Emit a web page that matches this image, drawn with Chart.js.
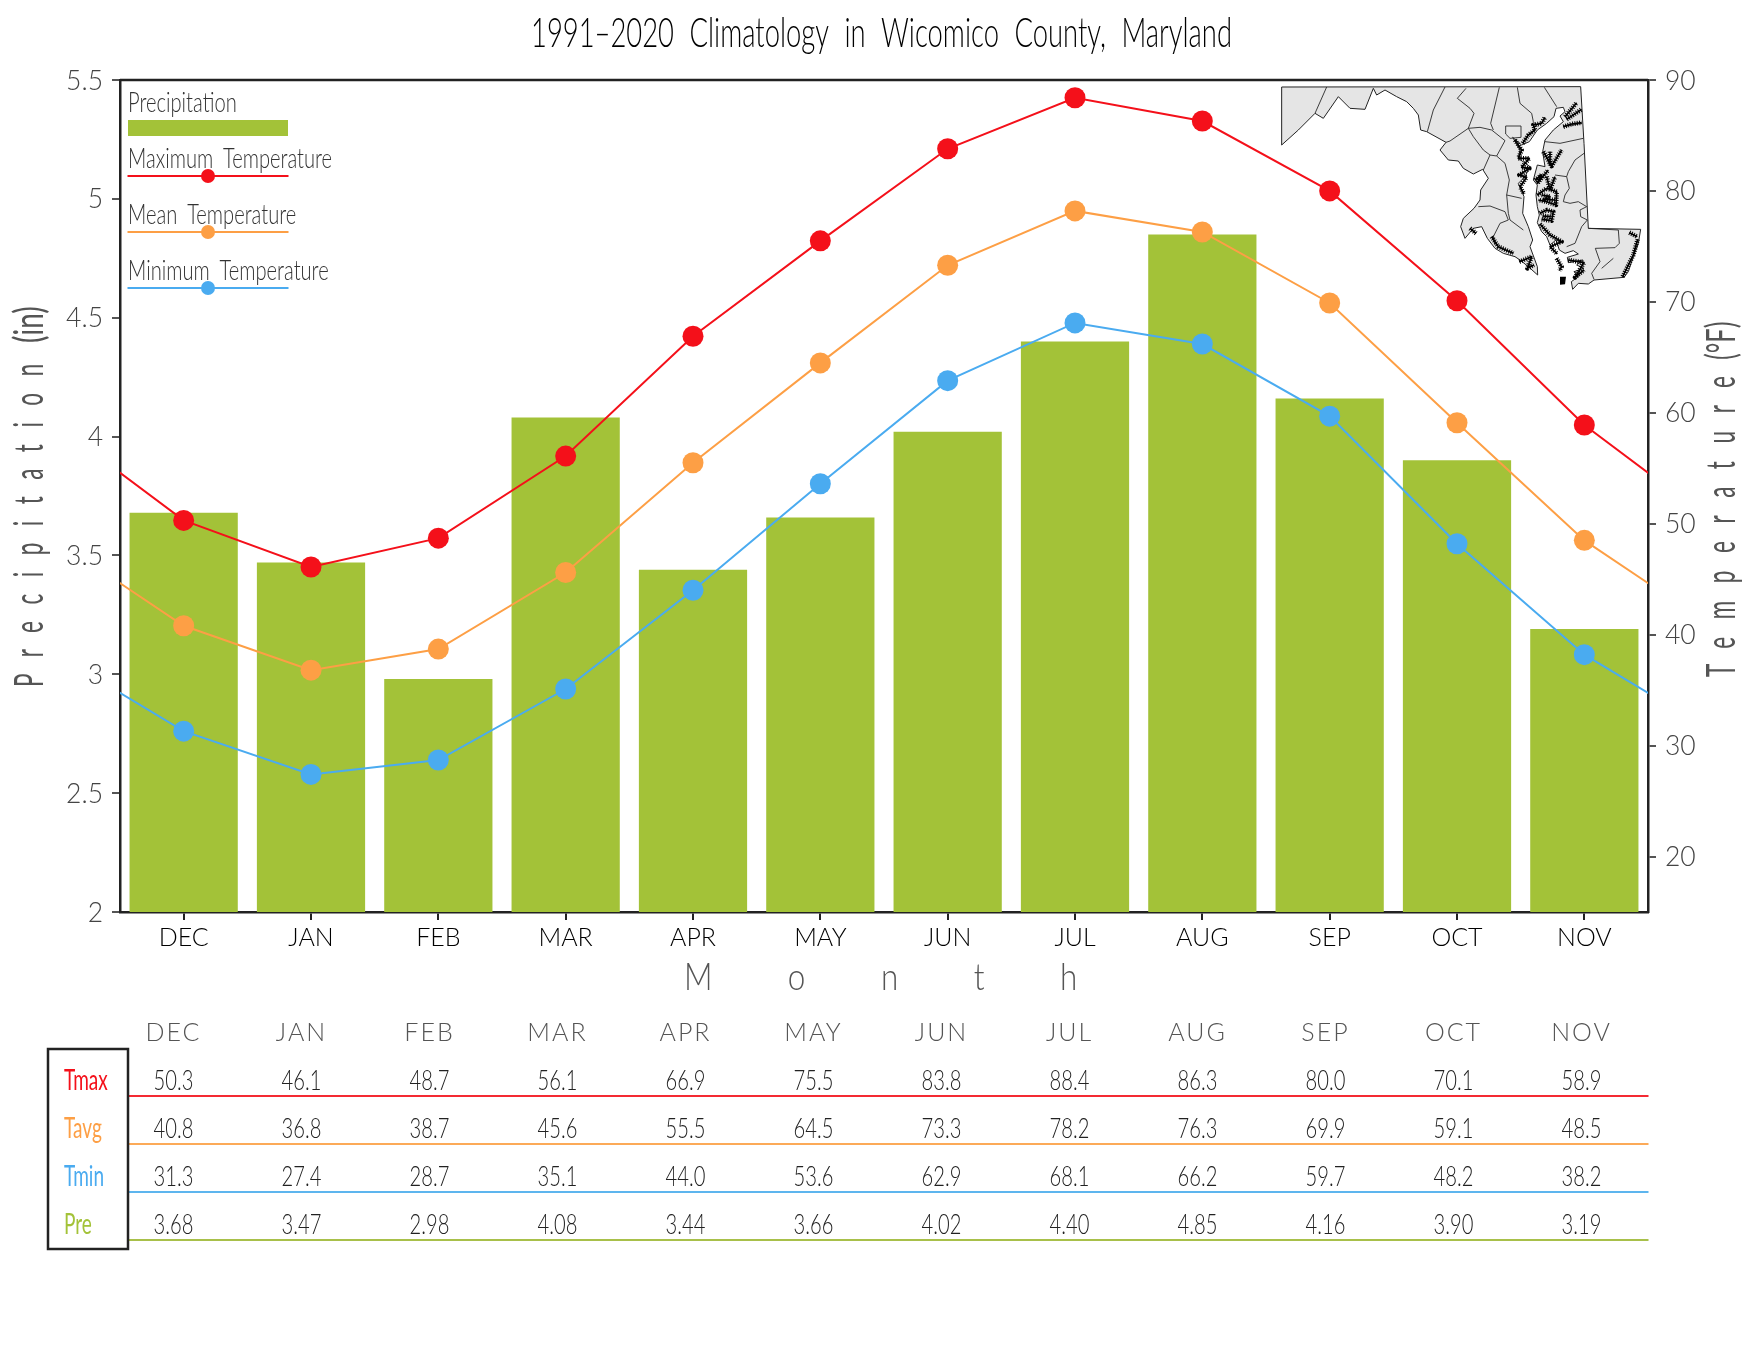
<!DOCTYPE html>
<html>
<head>
<meta charset="utf-8">
<title>Climatology</title>
<script src="https://cdn.jsdelivr.net/npm/chart.js@4"></script>
<style>
  html, body { margin: 0; padding: 0; background: #fff; }
  canvas { display: block; }
</style>
</head>
<body>
<canvas id="climo" width="1760" height="1360"></canvas>
<script>
const months = ['DEC', 'JAN', 'FEB', 'MAR', 'APR', 'MAY', 'JUN', 'JUL', 'AUG', 'SEP', 'OCT', 'NOV'];
const tmax = [50.3, 46.1, 48.7, 56.1, 66.9, 75.5, 83.8, 88.4, 86.3, 80.0, 70.1, 58.9];
const tavg = [40.8, 36.8, 38.7, 45.6, 55.5, 64.5, 73.3, 78.2, 76.3, 69.9, 59.1, 48.5];
const tmin = [31.3, 27.4, 28.7, 35.1, 44.0, 53.6, 62.9, 68.1, 66.2, 59.7, 48.2, 38.2];
const pre = [3.68, 3.47, 2.98, 4.08, 3.44, 3.66, 4.02, 4.40, 4.85, 4.16, 3.90, 3.19];

const RED = '#f4101a', ORANGE = '#fd9f45', BLUE = '#4aabf0', GREEN = '#a3c238';
const THIN = 'Lato, sans-serif';

// the lines run off both edges of the plot, so wrap the year around by one month
const wrap = arr => [arr[arr.length - 1], ...arr, arr[0]];

function lineSet(label, values, color, order) {
  return {
    type: 'line', label, data: wrap(values), yAxisID: 'y1', order,
    borderColor: color, backgroundColor: color, borderWidth: 2, tension: 0,
    pointRadius: 10.5, pointBorderWidth: 0, pointBackgroundColor: color, clip: 0
  };
}

function drawText(ctx, text, x, y, o) {
  ctx.save();
  ctx.translate(x, y);
  if (o.rot) ctx.rotate(o.rot);
  ctx.font = `${o.weight || 300} ${o.size}px ${THIN}`;
  ctx.fillStyle = o.color || '#000';
  ctx.letterSpacing = (o.spacing || 0) + 'px';
  ctx.wordSpacing = (o.wordGap || 0) + 'px';
  ctx.textBaseline = 'alphabetic';
  ctx.textAlign = 'left';
  let sx = o.sx || 1;
  const natural = ctx.measureText(text).width;
  if (o.fit) sx = o.fit / natural;
  ctx.scale(sx, 1);
  const dx = o.center ? -natural / 2 : 0;
  ctx.fillText(text, dx, 0);
  ctx.restore();
}

// Maryland inset, traced by eye; coordinates are 3x px around the origin below
const mapOutline = [[-505,21],[392,20],[402,190],[415,445],[572,448],[565,490],[550,530],[535,575],[522,592],[432,600],[415,612],[385,610],[368,628],[364,605],[385,590],[372,575],[402,565],[380,555],[398,540],[355,548],[352,532],[385,522],[370,512],[345,520],[328,510],[318,480],[300,495],[290,470],[275,455],[262,428],[268,405],[262,380],[258,345],[262,315],[250,300],[262,255],[285,260],[278,215],[285,180],[310,150],[340,125],[330,108],[345,95],[340,82],[318,85],[312,110],[290,130],[262,150],[238,185],[215,195],[188,172],[210,210],[205,235],[240,260],[225,290],[205,310],[222,350],[218,400],[235,440],[248,480],[240,500],[262,560],[263,585],[235,560],[210,540],[195,530],[160,520],[135,505],[112,475],[95,440],[70,445],[45,475],[32,440],[40,415],[72,385],[90,360],[92,330],[115,295],[98,268],[70,282],[40,265],[25,243],[-5,240],[-30,210],[-12,187],[-70,155],[-88,150],[-95,105],[-110,85],[-130,65],[-160,50],[-195,30],[-220,45],[-230,25],[-255,88],[-300,85],[-335,50],[-380,115],[-405,100],[-455,150],[-505,195]];
const mapCounties = [
  [[-370,21],[-405,100]],
  [[-15,21],[-50,90],[-68,155]],
  [[48,25],[22,55],[60,85],[72,100],[55,145],[0,183],[-12,187]],
  [[148,22],[122,130],[130,150]],
  [[202,22],[210,70],[245,100],[250,125],[262,140]],
  [[283,22],[320,80]],
  [[167,138],[213,138],[213,172],[180,175],[167,162],[167,138]],
  [[55,145],[90,142],[125,150],[165,182],[140,228]],
  [[55,145],[70,170],[100,210],[120,225],[140,228]],
  [[140,228],[165,250],[178,300],[170,345],[215,355]],
  [[120,225],[100,270]],
  [[170,345],[175,400],[180,420],[220,450]],
  [[85,380],[120,378],[165,395],[175,420],[150,430],[130,470],[135,495]],
  [[285,185],[330,190],[400,175]],
  [[340,140],[396,130]],
  [[402,220],[375,240],[355,275],[350,290],[315,285]],
  [[350,290],[358,325],[345,345],[340,365],[360,370],[385,365],[410,380]],
  [[410,380],[390,390],[392,410],[412,420],[395,440],[385,465],[375,490],[350,500]],
  [[415,445],[505,450],[508,490],[495,503],[436,505]],
  [[436,505],[450,545],[425,580],[432,598]],
  [[490,535],[455,565]]
];
const mapMarsh = [
  [[218,190],[235,165],[255,150],[250,135],[275,130],[285,112]],
  [[345,110],[362,90],[380,68]],[[350,118],[395,88]],[[340,140],[365,132],[395,128]],
  [[195,180],[215,210],[205,235],[238,235],[215,262],[238,265],[208,285],[230,292],[210,320],[222,342]],
  [[280,215],[305,258],[335,210]],[[300,215],[300,258]],
  [[255,300],[275,285],[262,310],[295,270]],
  [[290,290],[300,330],[315,290]],
  [[262,345],[290,325],[320,335],[318,375],[290,365],[265,360]],
  [[275,345],[300,350],[285,358],[315,360]],
  [[270,400],[290,390],[310,395],[305,422],[275,418]],[[278,408],[302,410]],
  [[60,445],[78,460]],[[125,470],[145,500],[172,512],[190,520]],
  [[208,545],[245,530],[232,565],[252,555]],
  [[270,432],[300,465],[335,485],[300,500],[322,522]],
  [[355,540],[402,548],[375,592],[402,570]],
  [[320,535],[335,560],[328,572]],
  [[538,458],[562,470]],[[518,590],[550,525],[563,478]]
];
// small solid island at the bottom of the bay
const mapBlobs = [
  [[330,590],[348,590],[345,613],[330,614]]
];

function drawInset(ctx) {
  ctx.save();
  ctx.translate(1450, 80);
  ctx.scale(1 / 3, 1 / 3);
  const trace = pts => {
    ctx.beginPath();
    pts.forEach((p, i) => i ? ctx.lineTo(p[0], p[1]) : ctx.moveTo(p[0], p[1]));
  };
  trace(mapOutline);
  ctx.closePath();
  ctx.fillStyle = '#e5e5e5';
  ctx.fill();
  ctx.strokeStyle = '#222';
  ctx.lineWidth = 3;
  ctx.lineJoin = 'round';
  ctx.stroke();
  ctx.lineWidth = 2.6;
  mapCounties.forEach(c => { trace(c); ctx.stroke(); });
  ctx.strokeStyle = '#000';
  ctx.fillStyle = '#000';
  mapBlobs.forEach(c => { trace(c); ctx.closePath(); ctx.fill(); });
  mapMarsh.forEach(c => {
    ctx.setLineDash([]);
    ctx.lineWidth = 5;
    trace(c); ctx.stroke();
    ctx.setLineDash([3, 4]);
    ctx.lineWidth = 14;
    trace(c); ctx.stroke();
  });
  ctx.restore();
}

function drawLegend(ctx) {
  const label = { size: 28, sx: 0.72, wordGap: 6, color: '#333' };
  drawText(ctx, 'Precipitation', 128, 112, label);
  ctx.fillStyle = GREEN;
  ctx.fillRect(128, 120, 160, 16);
  [['Maximum Temperature', RED, 168], ['Mean Temperature', ORANGE, 224], ['Minimum Temperature', BLUE, 280]].forEach(([name, color, base]) => {
    drawText(ctx, name, 128, base, label);
    ctx.strokeStyle = color;
    ctx.lineWidth = 2;
    ctx.beginPath();
    ctx.moveTo(127.5, base + 8);
    ctx.lineTo(288.5, base + 8);
    ctx.stroke();
    ctx.fillStyle = color;
    ctx.beginPath();
    ctx.arc(208, base + 8, 7, 0, Math.PI * 2);
    ctx.fill();
  });
}

function drawTable(ctx) {
  const colX = i => 173.5 + i * 128;
  months.forEach((m, i) => drawText(ctx, m, colX(i), 1041, { size: 25, spacing: 2, color: '#555', center: true }));
  const rows = [
    ['Tmax', tmax, 1, '#f4101a', '#f42a33'],
    ['Tavg', tavg, 1, '#fd9f45', '#fcaa58'],
    ['Tmin', tmin, 1, '#4aabf0', '#5db5ee'],
    ['Pre', pre, 2, '#a3c238', '#a8c04a']
  ];
  rows.forEach(([name, values, digits, color, rule], r) => {
    const base = 1090 + r * 48;
    drawText(ctx, name, 64, base, { size: 28, sx: 0.68, color, weight: 400 });
    values.forEach((v, i) => drawText(ctx, v.toFixed(digits), colX(i), base, { size: 28, sx: 0.72, color: '#222', center: true }));
    ctx.strokeStyle = rule;
    ctx.lineWidth = 2;
    ctx.beginPath();
    ctx.moveTo(127.5, base + 6);
    ctx.lineTo(1648.5, base + 6);
    ctx.stroke();
  });
  ctx.strokeStyle = '#222';
  ctx.lineWidth = 2.5;
  ctx.strokeRect(48, 1049, 80, 200);
}

const extras = {
  id: 'extras',
  afterDraw(chart) {
    const ctx = chart.ctx, a = chart.chartArea;
    ctx.save();
    ctx.strokeStyle = '#222';
    ctx.lineWidth = 2.5;
    ctx.beginPath();
    ctx.moveTo(a.left, a.top);
    ctx.lineTo(a.right, a.top);
    ctx.stroke();
    ctx.restore();

    drawText(ctx, '1991\u20132020 Climatology in Wicomico County, Maryland', 531, 47, { size: 41, fit: 701, wordGap: 12 });

    const up = -Math.PI / 2;
    const axisFont = { size: 41, sx: 0.55, rot: up, color: '#555', weight: 400 };
    drawText(ctx, 'Precipitation', 43, 687, { ...axisFont, spacing: 30 });
    drawText(ctx, '(in)', 43, 343, { ...axisFont, sx: 0.68 });
    drawText(ctx, 'Temperature', 1735, 677, { ...axisFont, spacing: 32 });
    drawText(ctx, '(\u00b0F)', 1735, 360, { ...axisFont, sx: 0.62 });
    drawText(ctx, 'Month', 684, 990, { size: 37, sx: 0.85, spacing: 89, color: '#555' });

    drawLegend(ctx);
    drawInset(ctx);
    drawTable(ctx);
  }
};

new Chart(document.getElementById('climo'), {
  type: 'bar',
  data: {
    labels: wrap(months),
    datasets: [
      lineSet('Maximum Temperature', tmax, RED, 1),
      lineSet('Mean Temperature', tavg, ORANGE, 2),
      lineSet('Minimum Temperature', tmin, BLUE, 3),
      {
        type: 'bar', label: 'Precipitation', data: [null, ...pre, null], yAxisID: 'y', order: 4,
        backgroundColor: GREEN, barPercentage: 0.85, categoryPercentage: 1
      }
    ]
  },
  options: {
    responsive: false,
    animation: false,
    devicePixelRatio: 1,
    layout: { padding: { top: 80 } },
    plugins: { legend: { display: false }, tooltip: { enabled: false } },
    scales: {
      x: {
        type: 'category', offset: true,
        // set here and not as min/max, or the off-plot wrap point gets dropped from the line
        afterDataLimits: s => { s.min = 1; s.max = 12; },
        afterFit: s => { s.height = 448; },
        border: { color: '#222', width: 2.5 },
        grid: { drawOnChartArea: false, tickLength: 8, tickColor: '#222', lineWidth: 2, offset: false },
        ticks: { color: '#000', padding: 3, maxRotation: 0, autoSkip: false, font: { family: THIN, size: 25, weight: 300 } }
      },
      y: {
        position: 'left', min: 2, max: 5.5,
        afterFit: s => { s.width = 120; },
        border: { color: '#222', width: 2.5 },
        grid: { drawOnChartArea: false, tickLength: 8, tickColor: '#555', lineWidth: 2 },
        ticks: { stepSize: 0.5, color: '#444', padding: 9, labelOffset: 1, callback: v => String(v), font: { family: THIN, size: 26.5, weight: 300 } }
      },
      y1: {
        position: 'right', min: 15, max: 90,
        afterFit: s => { s.width = 112; },
        border: { color: '#222', width: 2.5 },
        grid: { drawOnChartArea: false, tickLength: 8, tickColor: '#555', lineWidth: 2 },
        ticks: { stepSize: 10, includeBounds: false, color: '#444', padding: 9, labelOffset: 1, callback: v => String(v), font: { family: THIN, size: 26.5, weight: 300 } }
      }
    }
  },
  plugins: [extras]
});
</script>
</body>
</html>
